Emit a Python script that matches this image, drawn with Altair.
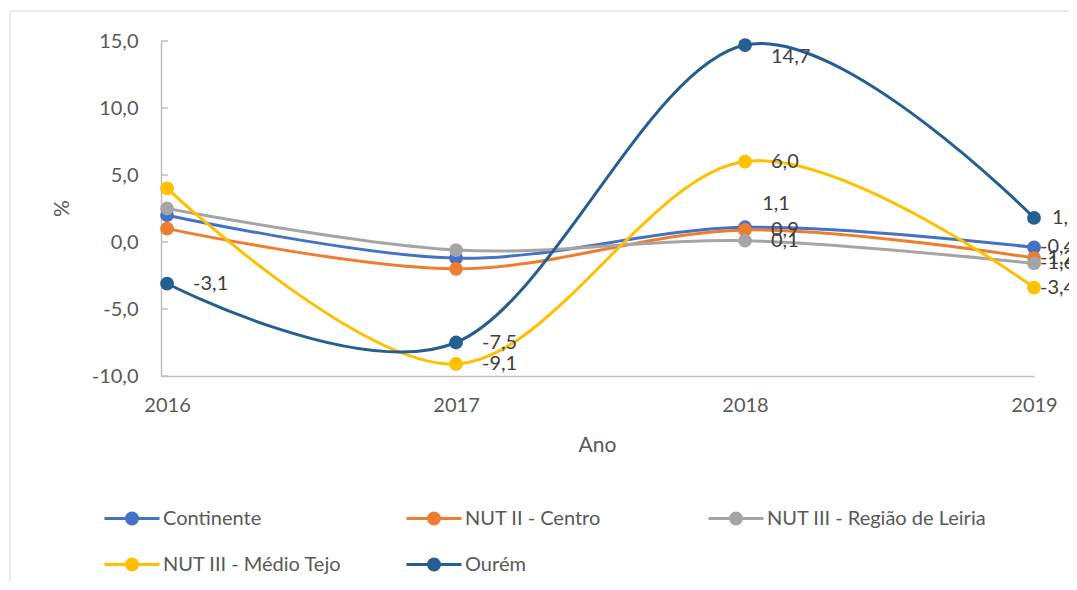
import altair as alt
import pandas as pd

years = [2016, 2017, 2018, 2019]
series_names = ["Continente", "NUT II - Centro", "NUT III - Região de Leiria",
                "NUT III - Médio Tejo", "Ourém"]
continente = [2.0, -1.2, 1.1, -0.4]
centro = [1.0, -2.0, 0.9, -1.2]
leiria = [2.5, -0.6, 0.1, -1.6]
medio_tejo = [4.0, -9.1, 6.0, -3.4]
ourem = [-3.1, -7.5, 14.7, 1.8]
colors = ["#4472C4", "#ED7D31", "#A5A5A5", "#FFC000", "#255E91"]
y_ticks = [-10, -5, 0, 5, 10, 15]
# which points carry a data label in the original
labelled = {
    "Continente": [2018, 2019],
    "NUT II - Centro": [2018, 2019],
    "NUT III - Região de Leiria": [2018, 2019],
    "NUT III - Médio Tejo": [2017, 2018, 2019],
    "Ourém": [2016, 2017, 2018, 2019],
}

rows = []
for i, (name, vals) in enumerate(zip(series_names, [continente, centro, leiria, medio_tejo, ourem])):
    for y, v in zip(years, vals):
        rows.append({"serie": name, "ordem": i, "ano": y, "valor": v,
                     "rotulo": f"{v:.1f}".replace(".", ","),
                     "mostra": y in labelled[name]})
df = pd.DataFrame(rows)

FONT = "Lato"
TXT = "#404040"
AX = "#595959"

xscale = alt.Scale(domain=[2015.979, 2019], nice=False, zero=False)
yscale = alt.Scale(domain=[-10, 15], nice=False, zero=False)
color_scale = alt.Scale(domain=series_names, range=colors)

sym = ("M-2.5,0L2.5,0"
       "M0.5,0A0.5,0.5,0,1,1,-0.5,0A0.5,0.5,0,1,1,0.5,0"
       "M0.3,0A0.3,0.3,0,1,1,-0.3,0A0.3,0.3,0,1,1,0.3,0"
       "M0.1,0A0.1,0.1,0,1,1,-0.1,0A0.1,0.1,0,1,1,0.1,0")

x_enc = alt.X("ano:Q", scale=xscale, axis=alt.Axis(
    values=years, format="d", title="Ano", grid=False, ticks=False,
    domainColor="#BFBFBF", domainWidth=1.5, labelColor=AX, labelFont=FONT,
    labelFontSize=20, labelPadding=19, labelFlush=False,
    titleFont=FONT, titleFontSize=21, titleFontWeight="normal", titleColor=AX,
    titleX=436, titleY=69, titleBaseline="middle"))
y_enc = alt.Y("valor:Q", scale=yscale, axis=alt.Axis(
    values=y_ticks,
    labelExpr="replace(replace(format(datum.value, '.1f'), '.', ','), '\u2212', '-')",
    title="%", grid=False, ticks=False, domainColor="#BFBFBF", domainWidth=1.5,
    labelColor=AX, labelFont=FONT, labelFontSize=20, labelPadding=23,
    titleFont=FONT, titleFontSize=21, titleFontWeight="normal", titleColor=AX,
    titleAngle=270, titleX=-99, titleY=167, titleAlign="center", titleBaseline="middle"))

base = alt.Chart(df)

# inward tick marks on the value axis (as in the original)
ticks = alt.Chart(pd.DataFrame({"t": y_ticks})).mark_rule(
    color="#BFBFBF", strokeWidth=1.5).encode(
    y=alt.Y("t:Q", scale=yscale), x=alt.value(0), x2=alt.value(7))

lines = base.mark_line(interpolate="cardinal", strokeWidth=3, strokeCap="round").encode(
    x=x_enc, y=y_enc,
    color=alt.Color("serie:N", scale=color_scale, sort=series_names, legend=alt.Legend(
        title=None, orient="none", legendX=-41.5, legendY=465, columns=3,
        direction="horizontal", gridAlign="all", columnPadding=18, rowPadding=22,
        padding=0, labelLimit=400,
        symbolType=sym, symbolSize=484, symbolStrokeWidth=3, symbolOpacity=1,
        labelFont=FONT, labelFontSize=20, labelColor=AX, labelOffset=18.5)),
    order=alt.Order("ano:Q"),
    detail="serie:N",
)

points = base.mark_circle(size=190, opacity=1).encode(
    x=alt.X("ano:Q", scale=xscale), y=alt.Y("valor:Q", scale=yscale),
    color=alt.Color("serie:N", scale=color_scale, legend=None),
    order=alt.Order("ordem:Q"),
)

def labels(filt, **kw):
    opts = dict(font=FONT, fontSize=20, color=TXT, align="left", baseline="middle")
    opts.update(kw)
    return base.transform_filter(filt).mark_text(**opts).encode(
        x=alt.X("ano:Q", scale=xscale), y=alt.Y("valor:Q", scale=yscale), text="rotulo:N")

mid = labels("datum.mostra && datum.ano < 2019 && !(datum.ano == 2018 && (datum.serie == 'Continente' || datum.serie == 'Ourém'))", dx=26)
end = labels("datum.mostra && datum.ano == 2019 && datum.serie != 'Ourém'", dx=6)
end_o = labels("datum.ano == 2019 && datum.serie == 'Ourém'", dx=18)
top_c = labels("datum.ano == 2018 && datum.serie == 'Continente'", dx=31, dy=-23, align="center")
top_o = labels("datum.ano == 2018 && datum.serie == 'Ourém'", dx=26, dy=12)

border = alt.Chart(pd.DataFrame({"k": [0]})).mark_rect(
    fill="transparent", stroke="#D9D9D9", strokeWidth=1).encode(
    x=alt.value(-151), x2=alt.value(919), y=alt.value(-30), y2=alt.value(560))

chart = alt.layer(border, lines, ticks, points, mid, end, end_o, top_c, top_o).properties(
    width=873, height=335,
    autosize=alt.AutoSizeParams(type="none"),
    padding={"left": 153, "top": 33, "right": 35, "bottom": 206},
    background="white",
).configure_view(stroke=None)

chart.save("out.html", embed_options={"renderer": "svg", "actions": False})
